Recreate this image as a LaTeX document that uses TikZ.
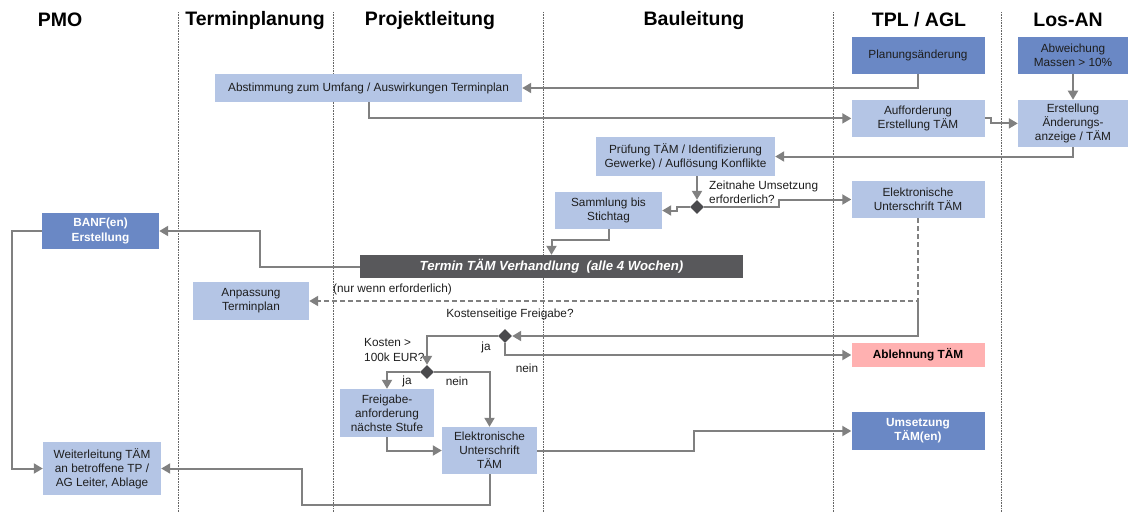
\documentclass[tikz,border=0pt]{standalone}
\usepackage{fontspec}
\setmainfont{Liberation Sans}
\usetikzlibrary{positioning, calc, arrows.meta, shapes.geometric}

\definecolor{boxdark}{HTML}{6A88C5}
\definecolor{boxlight}{HTML}{B4C5E5}
\definecolor{boxred}{HTML}{FFB1B1}
\definecolor{bargray}{HTML}{58585B}
\definecolor{decgray}{HTML}{4A4A4D}
\definecolor{flowgray}{HTML}{808080}
\definecolor{boxtext}{HTML}{1E1E1E}

\begin{document}
\begin{tikzpicture}
		[x=1pt, y=-1pt,
		 lane/.style = {densely dotted, black!60, line width=0.6pt},
		 head/.style = {font=\bfseries\fontsize{19.5}{21}\selectfont},
		 pale/.style = {fill=boxlight, text=boxtext, align=center, inner sep=2pt, font=\fontsize{11.8}{14.2}\selectfont},
		 deep/.style = {pale, fill=boxdark},
		 deepb/.style = {deep, text=white, font=\bfseries\fontsize{11.8}{14.2}\selectfont},
		 deny/.style = {pale, fill=boxred, text=black, font=\bfseries\fontsize{11.8}{14.2}\selectfont},
		 bar/.style = {fill=bargray, text=white, font=\bfseries\itshape\fontsize{13.2}{15}\selectfont},
		 dec/.style = {diamond, fill=decgray, inner sep=0pt, minimum size=14pt},
		 flow/.style = {draw=flowgray, line width=2pt, -{Triangle[length=9pt, width=10pt]}},
		 note/.style = {font=\fontsize{11.8}{14.2}\selectfont, text=boxtext, inner sep=1pt, align=left}]
		\useasboundingbox (0,0) rectangle (1129,512);

		\foreach \x in {178,333,543,833,1001}
			\draw[lane] (\x,12) -- (\x,512);

		\node[head] (hpmo) at (60,20) {PMO};
		\node[head] (htermin) at (255,20) {Terminplanung};
		\node[head] (hpl) at (430,20) {Projektleitung};
		\node[head] (hbau) at (694,20) {Bauleitung};
		\node[head] (htpl) at (919,20) {TPL / AGL};
		\node[head] (hlos) at (1068,20) {Los-AN};

		\node[deep, minimum width=133pt, minimum height=37pt] (plan) at (918,55) {Planungsänderung};
		\node[deep, minimum width=110pt, minimum height=37pt] (abw) at (1073,55) {Abweichung\\Massen > 10\%};
		\node[pale, minimum width=307pt, minimum height=28pt] (abst) at (368.5,88) {Abstimmung zum Umfang / Auswirkungen Terminplan};
		\node[pale, minimum width=133pt, minimum height=37pt, below=26pt of plan] (auff) {Aufforderung\\Erstellung TÄM};
		\node[pale, minimum width=110pt, minimum height=47pt, below=26pt of abw] (erst) {Erstellung\\Änderungs-\\anzeige / TÄM};
		\node[pale, minimum width=179pt, minimum height=39pt] (pruef) at (685.5,156.5) {Prüfung TÄM  / Identifizierung\\Gewerke) / Auflösung Konflikte};
		\node[dec] (zeit) at (697,207) {};
		\node[pale, minimum width=107pt, minimum height=37pt] (samm) at (608.5,210.5) {Sammlung bis\\Stichtag};
		\node[pale, minimum width=133pt, minimum height=37pt] (elek) at (918,199.5) {Elektronische\\Unterschrift TÄM};
		\node[bar, minimum width=383pt, minimum height=23pt] (term) at (551.5,266.5) {Termin TÄM Verhandlung\ \ (alle 4 Wochen)};
		\node[deepb, minimum width=117pt, minimum height=36pt] (banf) at (100.5,231) {BANF(en)\\Erstellung};
		\node[pale, minimum width=116pt, minimum height=38pt] (anp) at (251,301) {Anpassung\\Terminplan};
		\node[dec] (kost) at (505,336) {};
		\node[deny, minimum width=133pt, minimum height=24pt] (abl) at (918,355) {Ablehnung TÄM};
		\node[dec] (grenz) at (427,372) {};
		\node[pale, minimum width=94pt, minimum height=48pt] (freig) at (387,413) {Freigabe-\\anforderung\\nächste Stufe};
		\node[pale, minimum width=95pt, minimum height=47pt] (elekpl) at (489.5,450.5) {Elektronische\\Unterschrift\\TÄM};
		\node[deepb, minimum width=133pt, minimum height=38pt] (ums) at (918,431) {Umsetzung\\TÄM(en)};
		\node[pale, minimum width=118pt, minimum height=53pt] (weit) at (102,468.5) {Weiterleitung TÄM\\an betroffene TP /\\AG Leiter, Ablage};

		\node[note, anchor=west] (qzeit) at (708,192) {Zeitnahe Umsetzung\\erforderlich?};
		\node[note, anchor=west] (qnur) at (332,289) {(nur wenn erforderlich)};
		\node[note] (qkost) at (510,314) {Kostenseitige Freigabe?};
		\node[note, anchor=west] (qgrenz) at (363,350) {Kosten >\\100k EUR?};
		\node[note] (ja1) at (486,347) {ja};
		\node[note] (nein1) at (527,368) {nein};
		\node[note] (ja2) at (407,381) {ja};
		\node[note] (nein2) at (457,381) {nein};

		\coordinate (knick) at (elek.south |- anp.east);

		\draw[flow] (plan.south) |- (abst.east);
		\draw[flow] (abst.south) |- (auff.west);
		\draw[flow] (auff.east) -- ++(6,0) |- (erst.west);
		\draw[flow] (abw.south) -- (erst.north);
		\draw[flow] (erst.south) |- (pruef.east);
		\draw[flow] (pruef.south -| zeit) -- (zeit.north);
		\draw[flow] (zeit.west) -- ++(-13,0) |- (samm.east);
		\draw[flow] (zeit.east) -- ++(75,0) |- (elek.west);
		\draw[flow] (samm.south) -- ++(0,11) -| (term.north);
		\draw[flow] (term.west) -- ++(-100,0) |- (banf.east);
		\draw[flow] (banf.west) -- ++(-30,0) |- (weit.west);
		\draw[flow, dash pattern=on 5pt off 3pt] (elek.south) -- (knick) -- (anp.east);
		\draw[flow] (knick) |- (kost.east);
		\draw[flow] (kost.west) -| (grenz.north);
		\draw[flow] (kost.south) |- (abl.west);
		\draw[flow] (grenz.west) -| (freig.north);
		\draw[flow] (grenz.east) -| (elekpl.north);
		\draw[flow] (freig.south) |- (elekpl.west);
		\draw[flow] (elekpl.east) -- ++(157,0) |- (ums.west);
		\draw[flow] (elekpl.south) -- ++(0,31) -| ([xshift=141pt]weit.east) -- (weit.east);
	\end{tikzpicture}
\end{document}
